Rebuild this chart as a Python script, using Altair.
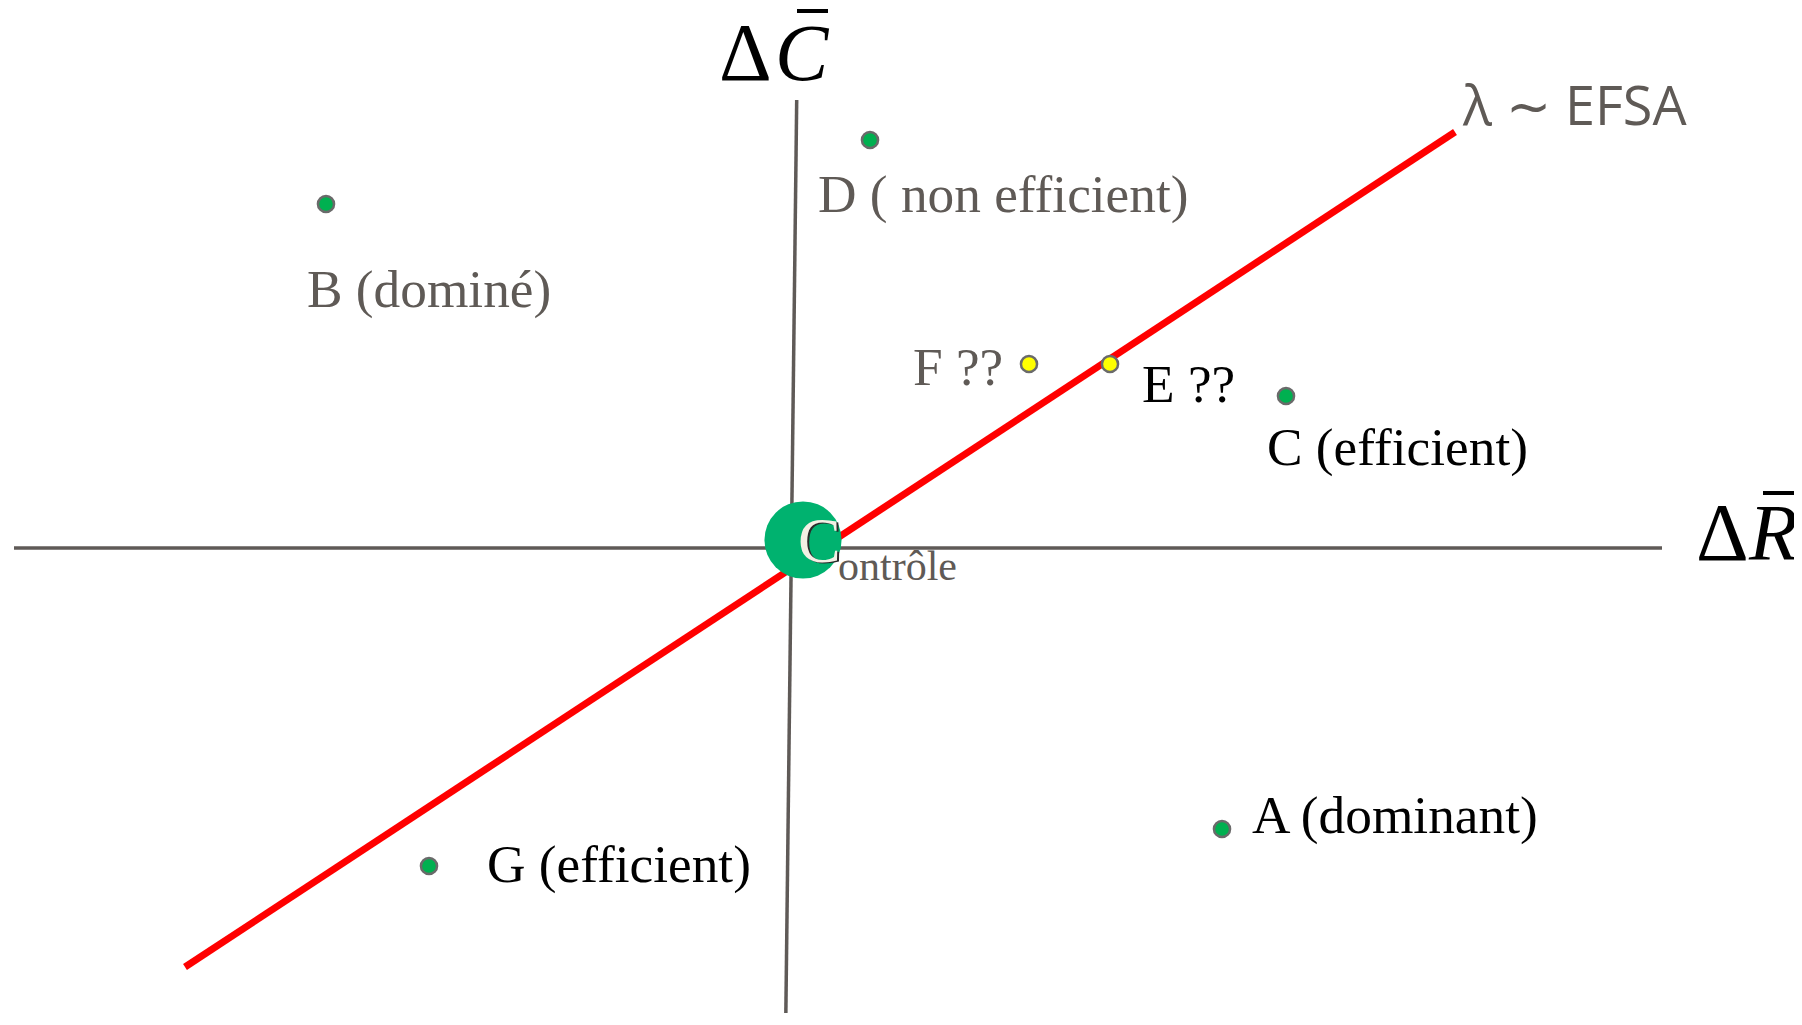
import altair as alt
import pandas as pd

# ---- data (diagram units: ΔR horizontally, ΔC vertically; origin = axis crossing) ----
# axes and the λ (EFSA) threshold line, as segment end points
seg_names = ["axe ΔR", "axe ΔC", "λ ~ EFSA"]
seg_x1 = [-77.7, 0.57, -60.6]
seg_y1 = [0.0, 44.8, -41.9]
seg_x2 = [87.1, -0.53, 66.4]
seg_y2 = [0.0, -47.7, 41.6]

# strategies
point_names = ["A", "B", "C", "D", "E", "F", "G"]
point_x = [43.1, -46.5, 49.5, 7.9, 31.9, 23.8, -36.2]
point_y = [-28.1, 34.4, 15.2, 40.8, 18.4, 18.4, -31.8]
point_kind = ["sûr", "sûr", "sûr", "sûr", "incertain", "incertain", "sûr"]

# labels of the strategies (anchor = left end of the text baseline)
label_text = ["A (dominant)", "B (dominé)", "C (efficient)", "D ( non efficient)",
              "E ??", "F ??", "G (efficient)"]
label_x = [46.1, -48.4, 47.6, 2.7, 35.1, 12.2, -30.4]
label_y = [-28.5, 24.1, 8.3, 33.6, 14.6, 16.3, -33.4]
label_tone = ["noir", "gris", "noir", "gris", "noir", "gris", "noir"]

# reference strategy
controle_x = [1.2]
controle_y = [0.8]

# axis titles
delta_text = ["Δ", "Δ"]
delta_x = [-7.2, 90.5]
delta_y = [46.8, -1.2]
var_text = ["C", "R"]
var_x = [-1.6, 95.8]
var_y = [46.8, -1.2]
bar_x1 = [0.6, 97.2]
bar_x2 = [3.7, 101.5]
bar_y = [53.7, 5.5]

lambda_text = ["λ ∼ EFSA"]
lambda_x = [67.2]
lambda_y = [42.3]

# ---- tables ----
segs = pd.DataFrame({"name": seg_names, "x": seg_x1, "y": seg_y1, "x2": seg_x2, "y2": seg_y2})
pts = pd.DataFrame({"name": point_names, "x": point_x, "y": point_y, "kind": point_kind})
labs = pd.DataFrame({"text": label_text, "x": label_x, "y": label_y, "tone": label_tone})
ctrl = pd.DataFrame({"x": controle_x, "y": controle_y})
deltas = pd.DataFrame({"text": delta_text, "x": delta_x, "y": delta_y})
vars_ = pd.DataFrame({"text": var_text, "x": var_x, "y": var_y})
bars = pd.DataFrame({"x": bar_x1, "x2": bar_x2, "y": bar_y})
lam = pd.DataFrame({"text": lambda_text, "x": lambda_x, "y": lambda_y})

W, H = 1786, 1005
xs = alt.Scale(domain=[-78.3, 100.3], nice=False, zero=False)
ys = alt.Scale(domain=[-46.5, 54.0], nice=False, zero=False)
X = lambda f="x": alt.X(f"{f}:Q", scale=xs, axis=None)
Y = lambda f="y": alt.Y(f"{f}:Q", scale=ys, axis=None)

axes = alt.Chart(segs).transform_filter("datum.name != 'λ ~ EFSA'").mark_rule(
    color="#5f5a57", strokeWidth=3.5, clip=False
).encode(x=X(), y=Y(), x2="x2:Q", y2="y2:Q")

lam_line = alt.Chart(segs).transform_filter("datum.name == 'λ ~ EFSA'").mark_rule(
    color="#ff0000", strokeWidth=7, strokeCap="butt"
).encode(x=X(), y=Y(), x2="x2:Q", y2="y2:Q")

ctrl_circle = alt.Chart(ctrl).mark_circle(size=5950, color="#00b26f", opacity=1).encode(
    x=X(), y=Y()
)

points = alt.Chart(pts).mark_point(
    shape="circle", filled=True, size=260, stroke="#6a6a6a", strokeWidth=2.5, opacity=1
).encode(
    x=X(), y=Y(),
    fill=alt.Fill("kind:N", scale=alt.Scale(domain=["sûr", "incertain"],
                                            range=["#00b050", "#ffff00"]), legend=None),
)

labels = alt.Chart(labs).mark_text(
    font="Liberation Serif", fontSize=53.3, align="left", baseline="alphabetic"
).encode(
    x=X(), y=Y(), text="text:N",
    color=alt.Color("tone:N", scale=alt.Scale(domain=["noir", "gris"],
                                              range=["#000000", "#5f5a56"]), legend=None),
)

c_shadow = alt.Chart(ctrl).mark_text(
    text="C", font="Liberation Serif", fontSize=64, align="left", baseline="alphabetic",
    color="#2a2a2a", dx=-3, dy=23
).encode(x=X(), y=Y())
c_letter = alt.Chart(ctrl).mark_text(
    text="C", font="Liberation Serif", fontSize=64, align="left", baseline="alphabetic",
    color="#f2f0e4", dx=-5, dy=21.5
).encode(x=X(), y=Y())
ontrole = alt.Chart(ctrl).mark_text(
    text="ontrôle", font="Liberation Serif", fontSize=42, align="left", baseline="alphabetic",
    color="#5f5a56", dx=35, dy=40
).encode(x=X(), y=Y())

delta_marks = alt.Chart(deltas).mark_text(
    font="Liberation Serif", fontSize=82, align="left", baseline="alphabetic", color="#000000"
).encode(x=X(), y=Y(), text="text:N")
var_marks = alt.Chart(vars_).mark_text(
    font="Liberation Serif", fontSize=80, fontStyle="italic", align="left",
    baseline="alphabetic", color="#000000"
).encode(x=X(), y=Y(), text="text:N")
overbars = alt.Chart(bars).mark_rule(color="#000000", strokeWidth=4, clip=False).encode(
    x=X(), x2="x2:Q", y=Y()
)

lam_label = alt.Chart(lam).mark_text(
    font="Open Sans", fontSize=54, align="left", baseline="alphabetic", color="#5f5a56"
).encode(x=X(), y=Y(), text="text:N")

chart = alt.layer(
    axes, lam_line, ctrl_circle, points, labels, c_shadow, c_letter, ontrole,
    delta_marks, var_marks, overbars, lam_label
).properties(
    width=W, height=H, padding=0, autosize=alt.AutoSizeParams(type="none")
).configure_view(stroke=None)

chart.save("out.html", embed_options={"renderer": "svg", "actions": False})
